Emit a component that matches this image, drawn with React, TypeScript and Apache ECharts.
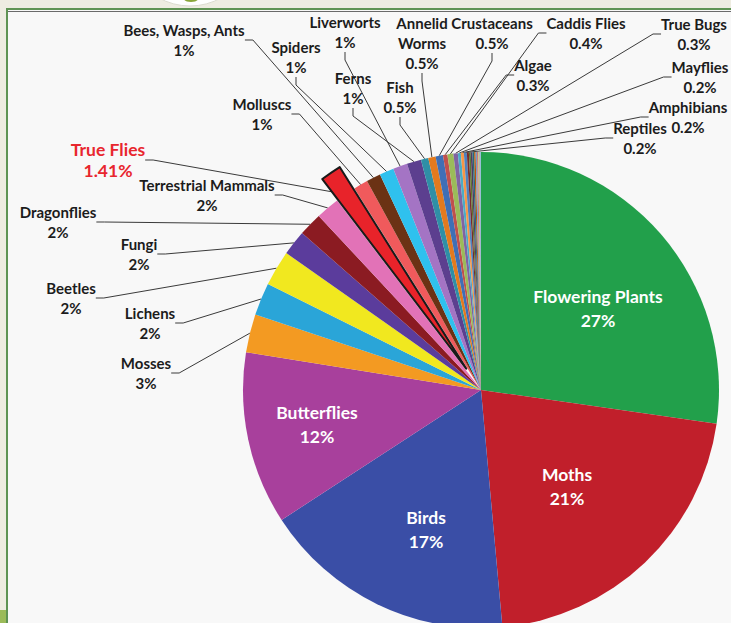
import React, { useEffect, useRef } from 'react';
import * as echarts from 'echarts';

// ---- data ----
const categories = [
  'Flowering Plants', 'Moths', 'Birds', 'Butterflies', 'Mosses', 'Lichens', 'Beetles', 'Fungi',
  'Dragonflies', 'Terrestrial Mammals', 'True Flies', 'Molluscs', 'Bees, Wasps, Ants', 'Spiders',
  'Liverworts', 'Ferns', 'Fish', 'Annelid Worms', 'Crustaceans', 'Algae', 'Caddis Flies', 'True Bugs',
  'Mayflies', 'Amphibians', 'Reptiles',
  'Other group 1', 'Other group 2', 'Other group 3', 'Other group 4', 'Other group 5',
  'Other group 6', 'Other group 7', 'Other group 8', 'Other group 9', 'Other group 10',
];
const values = [
  27.2, 21.25, 17.2, 11.7, 2.6, 2.2, 2.4, 1.7,
  1.6, 1.6, 1.41, 0.97, 0.97, 0.97,
  0.97, 0.97, 0.5, 0.5, 0.5, 0.3, 0.4, 0.3,
  0.2, 0.2, 0.2,
  0.14, 0.12, 0.12, 0.11, 0.1,
  0.09, 0.09, 0.08, 0.06, 0.04,
];
const labelNames = [
  'Flowering Plants', 'Moths', 'Birds', 'Butterflies', 'Mosses', 'Lichens', 'Beetles', 'Fungi',
  'Dragonflies', 'Terrestrial Mammals', 'True Flies', 'Molluscs', 'Bees, Wasps, Ants', 'Spiders',
  'Liverworts', 'Ferns', 'Fish', 'Annelid\nWorms', 'Crustaceans', 'Algae', 'Caddis Flies', 'True Bugs',
  'Mayflies', 'Amphibians', 'Reptiles',
  '', '', '', '', '', '', '', '', '', '',
];
const pctLabels = [
  '27%', '21%', '17%', '12%', '3%', '2%', '2%', '2%',
  '2%', '2%', '1.41%', '1%', '1%', '1%',
  '1%', '1%', '0.5%', '0.5%', '0.5%', '0.3%', '0.4%', '0.3%',
  '0.2%', '0.2%', '0.2%',
  '', '', '', '', '', '', '', '', '', '',
];
const explodedName = 'True Flies';

// ---- styles / layout ----
const palette = [
  '#22a04b', '#c11f2b', '#3a4ea6', '#a8409c', '#f39a22', '#2aa5d8', '#f1e81f', '#5b3c9c',
  '#8b1b22', '#e272b7', '#e8232a', '#f05a5c', '#6b3214', '#2fc1ee',
  '#a474c4', '#5c3f8f', '#2f8fa6', '#e37a1e', '#3f6fb5', '#c0504d', '#9bbb59', '#8064a2',
  '#4bacc6', '#f79646', '#4f81bd',
  '#772c2a', '#5f7530', '#4d3b62', '#276a7c', '#b65708',
  '#729aca', '#cd7371', '#afc97a', '#9983b5', '#6fbdd1',
];
// label centres (px)
const labelPos: [number, number][] = [
  [598, 308], [567, 486], [426, 529], [317, 424], [146, 373], [150, 323], [71, 298], [139, 254],
  [58, 222], [207, 195], [108, 160], [262, 114], [184, 40], [296, 57],
  [345, 32], [353, 88], [400, 97], [422, 43], [492, 33], [533, 75], [586, 33], [694, 34],
  [700, 77], [688, 117], [640, 138],
];
const CX = 481;
const CY = 390;
const R = 238;
const EXPLODE = 26;

export default function App() {
  const ref = useRef<HTMLDivElement>(null);
  useEffect(() => {
    if (!ref.current) return;
    const chart = echarts.init(ref.current, undefined, { renderer: 'svg' });
    const exIdx = categories.indexOf(explodedName);
    const total = values.reduce((a, b) => a + b, 0);
    const before = values.slice(0, exIdx).reduce((a, b) => a + b, 0);
    const mid = ((before + values[exIdx] / 2) / total) * Math.PI * 2;
    const dx = Math.sin(mid) * EXPLODE;
    const dy = -Math.cos(mid) * EXPLODE;

    const data = categories.map((name, i) => {
      const item: any = { name, value: values[i], itemStyle: { color: palette[i] } };
      if (i < 4) {
        item.label = { position: 'inside', color: '#ffffff', fontSize: 17.5, lineHeight: 24 };
        item.labelLine = { show: false };
      } else if (!pctLabels[i]) {
        item.label = { show: false };
        item.labelLine = { show: false };
      }
      if (i === exIdx) {
        item.itemStyle = { color: 'rgba(0,0,0,0)' };
        item.label = { color: '#e8262e', fontSize: 17.5, lineHeight: 21 };
      }
      return item;
    });
    const exData = categories.map((name, i) => ({
      name,
      value: values[i],
      itemStyle:
        i === exIdx
          ? { color: palette[i], borderColor: '#1a1a1a', borderWidth: 2 }
          : { color: 'rgba(0,0,0,0)' },
    }));

    chart.setOption({
      animation: false,
      graphic: [
        { type: 'rect', shape: { x: 0, y: 0, width: 731, height: 623 }, style: { fill: '#eeece1' }, silent: true },
        { type: 'circle', shape: { cx: 190, cy: -58, r: 64 }, style: { fill: '#ffffff', stroke: '#dcdcd0', lineWidth: 1 }, silent: true },
        { type: 'ellipse', shape: { cx: 191, cy: -1, rx: 7, ry: 3 }, style: { fill: '#8aa63a' }, silent: true },
        { type: 'rect', shape: { x: 6, y: 8, width: 740, height: 630 }, style: { fill: '#5f9353' }, silent: true },
        { type: 'rect', shape: { x: 8, y: 10, width: 740, height: 630 }, style: { fill: '#f8f8f8' }, silent: true },
        { type: 'line', shape: { x1: 8, y1: 11.5, x2: 731, y2: 11.5 }, style: { stroke: '#6a6a6a', lineWidth: 1 }, silent: true },
        { type: 'rect', shape: { x: 0, y: 610, width: 6, height: 13 }, style: { fill: '#9bbb59' }, silent: true },
      ],
      series: [
        {
          type: 'pie',
          center: [CX, CY],
          radius: R,
          startAngle: 90,
          clockwise: true,
          avoidLabelOverlap: false,
          emphasis: { disabled: true },
          itemStyle: { borderWidth: 0 },
          label: {
            show: true,
            formatter: (p: any) => labelNames[p.dataIndex] + '\n' + pctLabels[p.dataIndex],
            fontFamily: 'Lato',
            fontWeight: 'bold',
            fontSize: 15,
            lineHeight: 20,
            color: '#1c1c1c',
          },
          labelLine: {
            show: true,
            length: 10,
            length2: 8,
            minTurnAngle: 0,
            lineStyle: { color: '#3a3a3a', width: 1 },
          },
          labelLayout: (params: any) => {
            const p = labelPos[params.dataIndex];
            if (!p) return {};
            return { x: p[0], y: p[1], align: 'center', verticalAlign: 'middle', hideOverlap: false };
          },
          data,
        },
        {
          type: 'pie',
          center: [CX + dx, CY + dy],
          radius: R,
          startAngle: 90,
          clockwise: true,
          silent: true,
          z: 3,
          emphasis: { disabled: true },
          label: { show: false },
          labelLine: { show: false },
          data: exData,
        },
      ],
    });
    return () => chart.dispose();
  }, []);
  return (
    <div
      ref={ref}
      style={{ position: 'absolute', left: 0, top: 0, width: 731, height: 623 }}
    />
  );
}
